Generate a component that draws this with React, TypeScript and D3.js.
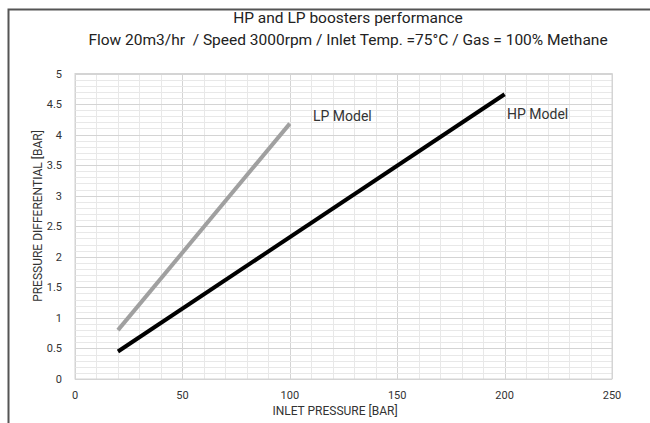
import React from "react";
import * as d3 from "d3";

const xTicks = [0, 50, 100, 150, 200, 250];
const yTicks = [0, 0.5, 1, 1.5, 2, 2.5, 3, 3.5, 4, 4.5, 5];
const lpX = [20, 100];
const lpY = [0.8, 4.18];
const hpX = [20, 200];
const hpY = [0.45, 4.66];
const titleLines = [
  "HP and LP boosters performance",
  "Flow 20m3/hr  / Speed 3000rpm / Inlet Temp. =75°C / Gas = 100% Methane",
];

const W = 650;
const H = 423;
const FONT = "Roboto, 'Noto Sans', sans-serif";

export default function App() {
  const x = d3.scaleLinear().domain([0, 250]).range([75, 612]);
  const y = d3.scaleLinear().domain([0, 5]).range([379, 73.5]);
  const minorX = d3.range(0, 251, 10);
  const minorY = d3.range(0, 51, 1).map((v) => v / 10);
  const line = d3
    .line<[number, number]>()
    .x((d) => x(d[0]))
    .y((d) => y(d[1]));
  const lp: [number, number][] = lpX.map((v, i) => [v, lpY[i]]);
  const hp: [number, number][] = hpX.map((v, i) => [v, hpY[i]]);

  return (
    <svg
      width={W}
      height={H}
      style={{ position: "absolute", left: 0, top: 0 }}
      fontFamily={FONT}
    >
      <rect x={0} y={0} width={W} height={H} fill="#fff" />
      <path d={`M8.5,${H} V9.5 H${W}`} fill="none" stroke="#555" strokeWidth={2} />
      {titleLines.map((t, i) => (
        <text
          key={i}
          x={348}
          y={23 + i * 22}
          textAnchor="middle"
          fontSize={15.5}
          fill="#222"
          style={{ whiteSpace: "pre" }}
        >
          {t}
        </text>
      ))}
      <g>
        {minorX.map((v) => (
          <line
            key={"mx" + v}
            x1={Math.round(x(v)) + 0.5}
            x2={Math.round(x(v)) + 0.5}
            y1={y(5)}
            y2={y(0)}
            stroke={v % 50 === 0 ? "#d4d4d4" : "#e8e8e8"}
            strokeWidth={1}
          />
        ))}
        {minorY.map((v) => (
          <line
            key={"my" + v}
            x1={x(0)}
            x2={x(250)}
            y1={Math.round(y(v)) + 0.5}
            y2={Math.round(y(v)) + 0.5}
            stroke={Math.round(v * 10) % 5 === 0 ? "#d4d4d4" : "#e8e8e8"}
            strokeWidth={1}
          />
        ))}
        <rect
          x={x(0)}
          y={y(5)}
          width={x(250) - x(0)}
          height={y(0) - y(5)}
          fill="none"
          stroke="#d4d4d4"
        />
      </g>
      {yTicks.map((v) => (
        <text
          key={"yt" + v}
          x={62}
          y={y(v) + 4}
          textAnchor="end"
          fontSize={11}
          fill="#333"
        >
          {v}
        </text>
      ))}
      {xTicks.map((v) => (
        <text
          key={"xt" + v}
          x={x(v)}
          y={399}
          textAnchor="middle"
          fontSize={11}
          fill="#333"
        >
          {v}
        </text>
      ))}
      <text x={335} y={415} textAnchor="middle" fontSize={12} fill="#333">
        INLET PRESSURE [BAR]
      </text>
      <text
        transform={`translate(42,216) rotate(-90)`}
        textAnchor="middle"
        fontSize={12}
        fill="#333"
      >
        PRESSURE DIFFERENTIAL [BAR]
      </text>
      <path d={line(lp) || ""} fill="none" stroke="#a0a0a0" strokeWidth={4} />
      <path d={line(hp) || ""} fill="none" stroke="#000" strokeWidth={4} />
      <text x={313} y={121} fontSize={14} fill="#333">
        LP Model
      </text>
      <text x={507} y={119} fontSize={14} fill="#333">
        HP Model
      </text>
    </svg>
  );
}
